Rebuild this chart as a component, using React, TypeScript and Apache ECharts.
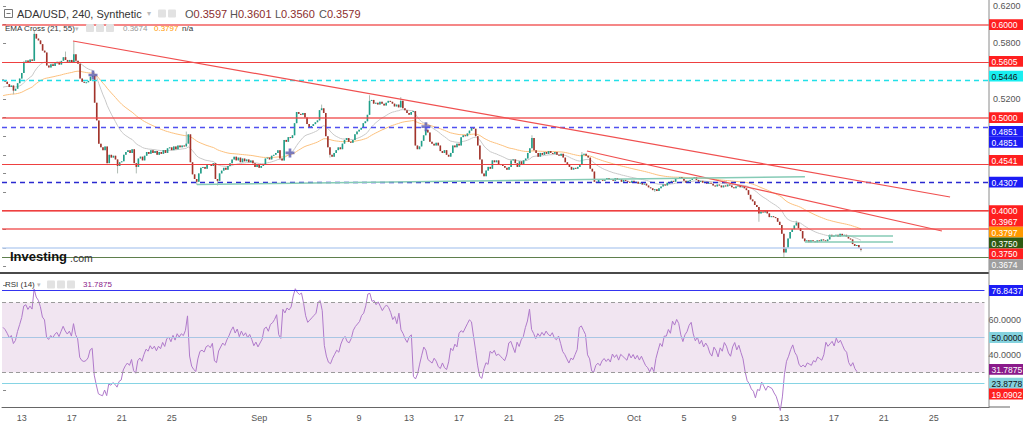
import React, { useEffect, useRef } from "react";
import * as echarts from "echarts";

// ---------- DATA ----------
const START_UTC = Date.UTC(2019, 7, 11, 12); // first 4H candle
const SLOT_MS = 4 * 3600 * 1000;
const SLOTS = 474; // visible 4H slots incl. empty space on the right
const MONTHS = ["Jan", "Feb", "Mar", "Apr", "May", "Jun", "Jul", "Aug", "Sep", "Oct", "Nov", "Dec"];
const LABEL_DAYS = [5, 9, 13, 17, 21, 25];

const FIRST_OPEN = 5410; // price x 1e-4
// 4H closes, price x 1e-4
const closes = [
  5400, 5385, 5360, 5330, 5345, 5290, 5310, 5370, 5420, 5480,
  5600, 5615, 5590, 5625, 5610, 5900, 5850, 5830, 5790, 5720,
  5700, 5560, 5540, 5575, 5555, 5585, 5600, 5570, 5610, 5650,
  5620, 5600, 5620, 5590, 5680, 5610, 5580, 5420, 5385, 5375,
  5380, 5395, 5440, 5450, 5160, 4970, 4720, 4680, 4650, 4690,
  4510, 4600, 4570, 4590, 4550, 4480, 4520, 4530, 4600, 4630,
  4650, 4620, 4660, 4510, 4470, 4560, 4580, 4540, 4590, 4630,
  4610, 4650, 4620, 4640, 4600, 4630, 4610, 4650, 4620, 4670,
  4680, 4650, 4690, 4660, 4700, 4680, 4700, 4690, 4720, 4820,
  4520, 4390, 4340, 4310, 4400, 4460, 4470, 4450, 4490, 4500,
  4480, 4510, 4340, 4320, 4400, 4430, 4460, 4440, 4480, 4510,
  4550, 4580, 4540, 4570, 4520, 4560, 4530, 4550, 4520, 4540,
  4510, 4470, 4490, 4460, 4480, 4500, 4560, 4570, 4550, 4590,
  4600, 4620, 4650, 4560, 4540, 4760, 4740, 4790, 4780, 4810,
  4940, 5060, 5040, 5030, 5050, 5000, 4930, 4890, 4910, 4930,
  4950, 4970, 5080, 5100, 5050, 4800, 4680, 4600, 4580, 4620,
  4650, 4680, 4660, 4720, 4760, 4780, 4740, 4730, 4760, 4820,
  4850, 4870, 4890, 4940, 4960, 5030, 5180, 5190, 5150, 5160,
  5140, 5170, 5150, 5130, 5160, 5180, 5170, 5150, 5120, 5140,
  5110, 5180, 5100, 5080, 5050, 5030, 5060, 5070, 4700, 4660,
  4690, 4750, 4810, 4870, 4840, 4740, 4720, 4700, 4730, 4700,
  4640, 4620, 4650, 4600, 4580, 4620, 4700, 4680, 4720, 4700,
  4790, 4810, 4800, 4830, 4860, 4890, 4880, 4800, 4700, 4550,
  4400, 4370, 4430, 4470, 4450, 4540, 4520, 4540, 4490, 4500,
  4480, 4460, 4440, 4470, 4540, 4550, 4510, 4470, 4530, 4500,
  4540, 4560, 4620, 4670, 4780, 4650, 4620, 4580, 4620, 4600,
  4630, 4610, 4640, 4620, 4610, 4630, 4600, 4590, 4610, 4570,
  4520, 4500, 4470, 4440, 4460, 4450, 4470, 4490, 4600, 4610,
  4590, 4570, 4450, 4420, 4310, 4300, 4330, 4340, 4320, 4340,
  4350, 4330, 4340, 4320, 4350, 4330, 4340, 4310, 4330, 4320,
  4310, 4300, 4320, 4300, 4310, 4290, 4300, 4280, 4290, 4270,
  4250, 4240, 4220, 4230, 4210, 4240, 4260, 4280, 4270, 4300,
  4300, 4320, 4310, 4350, 4340, 4360, 4350, 4320, 4300, 4320,
  4330, 4350, 4360, 4330, 4310, 4320, 4300, 4310, 4290, 4300,
  4290, 4270, 4260, 4280, 4270, 4250, 4270, 4260, 4280, 4270,
  4250, 4240, 4260, 4270, 4250, 4260, 4240, 4220, 4170, 4120,
  4100, 4060, 4040, 3970, 3990, 3980, 4000, 3970, 3930, 3940,
  3930, 3920, 3880, 3845, 3750, 3550, 3600, 3700, 3770, 3800,
  3840, 3870, 3810, 3780, 3700, 3670, 3680, 3660, 3680, 3670,
  3660, 3680, 3670, 3690, 3680, 3670, 3690, 3740, 3720, 3730,
  3740, 3720, 3750, 3730, 3740, 3720, 3700, 3690, 3640, 3620,
  3630, 3597, 3579,
];
// notable wicks: [candle index, price x 1e-4]
const wickHighs = [
  [15, 5940], [30, 5710], [34, 5820], [88, 4850], [153, 5140], [176, 5240],
  [191, 5220], [203, 4890], [254, 4810], [278, 4630], [381, 3890], [412, 3601],
];
const wickLows = [
  [5, 5250], [55, 4400], [64, 4400], [93, 4280], [103, 4270], [157, 4570],
  [313, 4200], [363, 3880], [375, 3490], [412, 3560],
];

// indicator seeds (state at the first visible candle)
const EMA_FAST = 21, EMA_SLOW = 55, RSI_LEN = 14;
const EMA_FAST_SEED = 0.532, EMA_SLOW_SEED = 0.523;
const RSI_GAIN_SEED = 0.003, RSI_LOSS_SEED = 0.0023;

// horizontal levels (main pane)
const levelPrices = [0.6, 0.5605, 0.5446, 0.5, 0.4851, 0.4541, 0.4307, 0.4, 0.3967, 0.375, 0.3579, 0.3497];
// trend / support lines: [index1, price1, index2, price2]
const trendLines = [
  [33.6, 0.5824, 454.8, 0.4146],
  [280.4, 0.4641, 450.9, 0.3781],
  [93.1, 0.4281, 385.1, 0.4365],
  [396.2, 0.3732, 427.4, 0.3732],
  [385.1, 0.3668, 427.4, 0.3668],
];
// EMA cross markers [index, price]
const crossPoints = [[43.2, 0.5458], [137.8, 0.462], [203.1, 0.4902]];

// RSI levels
const rsiLevels = [76.8437, 70, 50, 30, 23.8778, 19.0902];

// right-scale tags
const mainTagValues = [0.6, 0.5605, 0.5446, 0.5, 0.4851, 0.4851, 0.4541, 0.4307, 0.4, 0.3967, 0.3797, 0.375, 0.375, 0.3674];
const rsiTagValues = [76.8437, 50, 31.7875, 23.8778, 19.0902];

const HEADER = { symbol: "ADA/USD, 240, Synthetic", o: "0.3597", h: "0.3601", l: "0.3560", c: "0.3579" };
const EMA_TEXT = { name: "EMA Cross (21, 55)", fast: "0.3674", slow: "0.3797", cross: "n/a" };
const RSI_TEXT = { name: "RSI (14)", value: "31.7875" };

// ---------- STYLES ----------
const FONT = "'Liberation Sans', Arial, sans-serif";
const RED = "#ff1f1f";
const BLUE = "#1c1cf5";
const levelStyles = [
  { color: "rgba(240,70,70,0.65)", width: 2, type: "solid" },
  { color: "#ee4040", width: 1, type: "solid" },
  { color: "#22e0e8", width: 1.3, type: [5, 4] },
  { color: "rgba(240,70,70,0.65)", width: 2, type: "solid" },
  { color: "#5050f0", width: 1.3, type: [5, 4] },
  { color: "#ee4040", width: 1, type: "solid" },
  { color: "#2a2ad0", width: 1.3, type: [5, 4] },
  { color: "rgba(240,70,70,0.65)", width: 2, type: "solid" },
  { color: "#ee4040", width: 1, type: "solid" },
  { color: "rgba(240,70,70,0.65)", width: 2, type: "solid" },
  { color: "#bcd2f2", width: 1.5, type: "solid" },
  { color: "#5f7f4c", width: 1.2, type: "solid" },
];
const trendStyles = [
  { color: "#f05050", width: 1.2, type: "solid" },
  { color: "#f05050", width: 1.2, type: "solid" },
  { color: "#86cbb6", width: 1.5, type: "solid" },
  { color: "#86cbb6", width: 1.5, type: "solid" },
  { color: "#86cbb6", width: 1.5, type: "solid" },
];
const mainTagStyles = [
  [RED, "#fff"], [RED, "#fff"], ["#19eef0", "#111"], [RED, "#fff"], [BLUE, "#fff"], [BLUE, "#fff"],
  [RED, "#fff"], [BLUE, "#fff"], [RED, "#fff"], [RED, "#fff"], ["#ff9800", "#fff"], ["#2f5a12", "#fff"],
  [RED, "#fff"], ["#9e9e9e", "#fff"],
];
const rsiLevelStyles = [
  { color: "#3434f0", width: 1, type: "solid" },
  { color: "#9a9a9a", width: 1, type: [4, 3] },
  { color: "#a9c6e4", width: 1, type: "solid" },
  { color: "#9a9a9a", width: 1, type: [4, 3] },
  { color: "#86d4e4", width: 1, type: "solid" },
  { color: "#ff3b3b", width: 1, type: "solid" },
];
const rsiTagStyles = [[BLUE, "#fff"], ["#84d2de", "#111"], ["#8a1a8a", "#fff"], ["#84d2de", "#111"], [RED, "#fff"]];

const GRID_LEFT = 2;
const GRID_W = 987;
const AXIS_X = GRID_LEFT + GRID_W;
const TAG_W = 34;
const TAG_H = 10.8;
const TAG_FONT = `8.5px ${FONT}`;
const SMALL_FONT = `8px ${FONT}`;

export default function App() {
  const ref = useRef<HTMLDivElement>(null);

  useEffect(() => {
    if (!ref.current) return;
    const chart = echarts.init(ref.current, undefined, { renderer: "svg" });

    // build candles and indicators
    const hiMap = new Map<number, number>(wickHighs.map((w) => [w[0], w[1]] as [number, number]));
    const loMap = new Map<number, number>(wickLows.map((w) => [w[0], w[1]] as [number, number]));
    const candles: number[][] = [];
    const emaFast: number[][] = [];
    const emaSlow: number[][] = [];
    const rsi: number[][] = [];
    let ef = EMA_FAST_SEED, es = EMA_SLOW_SEED;
    let ag = RSI_GAIN_SEED, al = RSI_LOSS_SEED;
    const kf = 2 / (EMA_FAST + 1), ks = 2 / (EMA_SLOW + 1);
    closes.forEach((cRaw, i) => {
      const oRaw = i === 0 ? FIRST_OPEN : closes[i - 1];
      const o = oRaw / 10000, c = cRaw / 10000;
      const h = Math.max(o, c, (hiMap.get(i) ?? 0) / 10000);
      const l = Math.min(o, c, loMap.has(i) ? (loMap.get(i) as number) / 10000 : 99);
      candles.push([i, o, c, l, h]);
      ef = c * kf + ef * (1 - kf);
      es = c * ks + es * (1 - ks);
      emaFast.push([i, ef]);
      emaSlow.push([i, es]);
      const ch = c - o;
      ag = (ag * (RSI_LEN - 1) + Math.max(ch, 0)) / RSI_LEN;
      al = (al * (RSI_LEN - 1) + Math.max(-ch, 0)) / RSI_LEN;
      rsi.push([i, 100 - 100 / (1 + ag / al)]);
    });

    const dateLabels: string[] = [];
    for (let k = 0; k < SLOTS; k++) {
      const d = new Date(START_UTC + k * SLOT_MS);
      let s = "";
      if (d.getUTCHours() === 0) {
        const day = d.getUTCDate();
        if (day === 1) s = MONTHS[d.getUTCMonth()];
        else if (LABEL_DAYS.includes(day)) s = String(day);
      }
      dateLabels.push(s);
    }

    const xValueAxis = (gridIndex: number) => ({
      type: "value", gridIndex, min: -0.5, max: SLOTS - 0.5, show: false,
    });

    const option: any = {
      animation: false,
      textStyle: { fontFamily: FONT },
      grid: [
        { left: GRID_LEFT, width: GRID_W, top: 6, height: 260.4 },
        { left: GRID_LEFT, width: GRID_W, top: 285, height: 105 },
        { left: GRID_LEFT, width: GRID_W, top: 406, height: 1 },
      ],
      xAxis: [
        xValueAxis(0),
        xValueAxis(1),
        {
          type: "category", gridIndex: 2, data: dateLabels, boundaryGap: true,
          axisLine: { show: true, lineStyle: { color: "#666", width: 1 } },
          axisTick: { show: false },
          axisLabel: {
            interval: (_i: number, v: string) => v !== "",
            color: "#555", fontSize: 9, margin: 6, fontFamily: FONT,
          },
          splitLine: { show: false },
        },
      ],
      yAxis: [
        {
          type: "value", gridIndex: 0, position: "right", min: 0.34, max: 0.62, interval: 0.02,
          axisLine: { show: false }, splitLine: { show: false },
          axisTick: { show: true, length: 3, lineStyle: { color: "#888" } },
          axisLabel: { formatter: (v: number) => v.toFixed(4), color: "#555", fontSize: 9, margin: 4 },
        },
        {
          type: "value", gridIndex: 1, position: "right", min: 20, max: 80, interval: 20,
          axisLine: { show: false }, splitLine: { show: false },
          axisTick: { show: true, length: 3, lineStyle: { color: "#888" } },
          axisLabel: { formatter: (v: number) => v.toFixed(4), color: "#555", fontSize: 9, margin: 4 },
        },
        { type: "value", gridIndex: 2, show: false },
      ],
      series: [
        {
          type: "line", name: "levels", xAxisIndex: 0, yAxisIndex: 0, z: 1,
          data: emaFast, showSymbol: false, lineStyle: { opacity: 0 }, silent: true,
          markLine: {
            silent: true, symbol: ["none", "none"], label: { show: false }, animation: false,
            data: [
              ...levelPrices.map((p, k) => ({ yAxis: p, lineStyle: levelStyles[k] })),
              ...trendLines.map((t, k) => [
                { coord: [t[0], t[1]], lineStyle: trendStyles[k] },
                { coord: [t[2], t[3]] },
              ]),
            ],
          },
        },
        {
          type: "line", name: "EMA21", xAxisIndex: 0, yAxisIndex: 0, z: 2, data: emaFast,
          showSymbol: false, lineStyle: { color: "#c9c9c9", width: 1 },
        },
        {
          type: "line", name: "EMA55", xAxisIndex: 0, yAxisIndex: 0, z: 2, data: emaSlow,
          showSymbol: false, lineStyle: { color: "#fcc17e", width: 1 },
        },
        {
          type: "custom", name: "ADA/USD", xAxisIndex: 0, yAxisIndex: 0, z: 3,
          data: candles,
          encode: { x: 0, y: [1, 2, 3, 4] },
          renderItem: (_p: any, api: any) => {
            const i = api.value(0), o = api.value(1), c = api.value(2), l = api.value(3), h = api.value(4);
            const pO = api.coord([i, o]);
            const pC = api.coord([i, c]);
            const pH = api.coord([i, h]);
            const pL = api.coord([i, l]);
            const w = api.size([1, 0])[0] * 0.78;
            const up = c >= o;
            const top = Math.min(pO[1], pC[1]);
            const ht = Math.max(Math.abs(pO[1] - pC[1]), 1);
            return {
              type: "group",
              children: [
                {
                  type: "line",
                  shape: { x1: pH[0], y1: pH[1], x2: pL[0], y2: pL[1] },
                  style: { stroke: "#b0bcb4", lineWidth: 1 },
                },
                {
                  type: "rect",
                  shape: { x: pO[0] - w / 2, y: top, width: w, height: ht },
                  style: { fill: up ? "#20a08a" : "#a3332b" },
                },
              ],
            };
          },
        },
        {
          type: "scatter", name: "cross", xAxisIndex: 0, yAxisIndex: 0, z: 4, data: crossPoints,
          symbol: "path://M3.5,0H6.5V3.5H10V6.5H6.5V10H3.5V6.5H0V3.5H3.5Z", symbolSize: 9,
          itemStyle: { color: "#5a5cb0" },
        },
        {
          type: "line", name: "RSI", xAxisIndex: 1, yAxisIndex: 1, z: 3, data: rsi, clip: false,
          showSymbol: false, lineStyle: { color: "#b07acb", width: 1 },
          markArea: {
            silent: true, itemStyle: { color: "#f1e5f1" },
            data: [[{ yAxis: 70 }, { yAxis: 30 }]],
          },
          markLine: {
            silent: true, symbol: ["none", "none"], label: { show: false },
            data: rsiLevels.map((v, k) => ({ yAxis: v, lineStyle: rsiLevelStyles[k] })),
          },
        },
      ],
    };
    chart.setOption(option);

    // right-scale tags with TradingView-like stacking
    const tagEls: any[] = [];
    const addTags = (values: number[], styles: string[][], axis: number) => {
      let prev = -1e9;
      const ys: number[] = [];
      values.forEach((v, k) => {
        let y = chart.convertToPixel({ yAxisIndex: axis }, v) as number;
        y = Math.max(y, prev + TAG_H);
        prev = y;
        ys.push(y);
        tagEls.push({
          type: "rect", z: 100, shape: { x: AXIS_X, y: y - TAG_H / 2, width: TAG_W, height: TAG_H },
          style: { fill: styles[k][0] },
        });
        tagEls.push({
          type: "text", z: 101, x: AXIS_X + 2.5, y: y + 0.5,
          style: { text: v.toFixed(4), fill: styles[k][1], font: TAG_FONT, verticalAlign: "middle" },
        });
      });
      return ys;
    };
    const mainYs = addTags(mainTagValues, mainTagStyles, 0);
    const rsiYs = addTags(rsiTagValues, rsiTagStyles, 1);
    // tick labels covered by a tag are hidden, as on the reference scale
    const covered = (axis: number, v: number, ys: number[]) => {
      const y = chart.convertToPixel({ yAxisIndex: axis }, v) as number;
      return ys.some((ty) => Math.abs(ty - y) < 10);
    };

    const box = (x: number, y: number) => ({
      type: "rect", z: 50, shape: { x, y, width: 8, height: 8, r: 1 }, style: { fill: "#e2e2e2" },
    });
    const txt = (x: number, y: number, text: string, fill: string, font: string) => ({
      type: "text", z: 50, x, y, style: { text, fill, font, verticalAlign: "middle" },
    });
    const ohlc = (x: number, k: string, v: string) => ({
      type: "text", z: 50, x, y: 13.5,
      style: {
        text: `{a|${k}}{b|${v}}`, verticalAlign: "middle",
        rich: {
          a: { fill: "#555", font: `11px ${FONT}` },
          b: { fill: "#8b2d2d", font: `11px ${FONT}` },
        },
      },
    });

    const headerEls: any[] = [
      { type: "rect", z: 50, shape: { x: 4.5, y: 9.5, width: 8, height: 8 }, style: { fill: "none", stroke: "#777", lineWidth: 1 } },
      { type: "line", z: 50, shape: { x1: 6.5, y1: 13.5, x2: 10.5, y2: 13.5 }, style: { stroke: "#777", lineWidth: 1 } },
      txt(17, 13.5, HEADER.symbol, "#333", `11px ${FONT}`),
      txt(147, 13, "▾", "#bbb", `8px ${FONT}`),
      box(158, 9.5), box(168, 9.5),
      ohlc(185, "O", HEADER.o), ohlc(230, "H", HEADER.h), ohlc(275, "L", HEADER.l), ohlc(319, "C", HEADER.c),
      txt(5, 28, EMA_TEXT.name, "#333", SMALL_FONT),
      txt(75, 28, "▾", "#bbb", `7px ${FONT}`),
      box(86, 24), box(96, 24), box(106, 24),
      txt(123, 28, EMA_TEXT.fast, "#999", SMALL_FONT),
      txt(154, 28, EMA_TEXT.slow, "#ff9800", SMALL_FONT),
      txt(182, 28, EMA_TEXT.cross, "#333", SMALL_FONT),
      txt(5, 284.5, RSI_TEXT.name, "#333", SMALL_FONT),
      txt(37, 284.5, "▾", "#bbb", `7px ${FONT}`),
      box(47, 280.5), box(57, 280.5), box(67, 280.5),
      txt(83, 284.5, RSI_TEXT.value, "#8a1a8a", SMALL_FONT),
      txt(10, 256, "Investing", "#111", `bold 13px ${FONT}`),
      txt(70, 258, ".com", "#333", `10.5px ${FONT}`),
      { type: "line", z: 40, shape: { x1: 0, y1: 273, x2: AXIS_X, y2: 273 }, style: { stroke: "#4a4a4a", lineWidth: 2 } },
      { type: "line", z: 40, shape: { x1: AXIS_X, y1: 0, x2: AXIS_X, y2: 407 }, style: { stroke: "#8a8a8a", lineWidth: 1 } },
      { type: "line", z: 40, shape: { x1: AXIS_X, y1: 407, x2: 1010, y2: 407 }, style: { stroke: "#666", lineWidth: 1 } },
    ];

    chart.setOption({
      yAxis: [
        { axisLabel: { formatter: (v: number) => (covered(0, v, mainYs) ? "" : v.toFixed(4)) } },
        { axisLabel: { formatter: (v: number) => (covered(1, v, rsiYs) ? "" : v.toFixed(4)) } },
        {},
      ],
      graphic: { elements: [...headerEls, ...tagEls] },
    });

    return () => chart.dispose();
  }, []);

  return (
    <div
      ref={ref}
      style={{ position: "fixed", left: 0, top: 0, width: 1024, height: 427, background: "#fff" }}
    />
  );
}
